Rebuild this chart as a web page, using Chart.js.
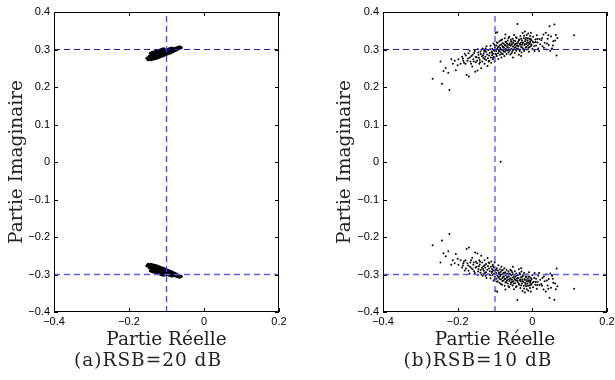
<!DOCTYPE html>
<html>
<head>
<meta charset="utf-8">
<title>Constellation - RSB</title>
<script src="https://cdn.jsdelivr.net/npm/chart.js@4.4.1/dist/chart.umd.min.js"></script>
<style>
    html, body { margin: 0; padding: 0; background: #fff; overflow: hidden; }
    #wrap { position: relative; width: 615px; height: 380px; }
    canvas { position: absolute; top: 0; }
    #chartA { left: 0; width: 305px; height: 380px; }
    #chartB { left: 305px; width: 320px; height: 380px; }
</style>
</head>
<body>
<div id="wrap">
    <canvas id="chartA" width="305" height="380"></canvas>
    <canvas id="chartB" width="320" height="380"></canvas>
</div>
<script>
// Axes
const X_MIN = -0.4, X_MAX = 0.2;
const Y_MIN = -0.4, Y_MAX = 0.4;
const X_TICKS = [-0.4, -0.2, 0, 0.2];
const X_TICK_LABELS = ['\u22120.4', '\u22120.2', '0', '0.2'];
const Y_TICKS = [-0.4, -0.3, -0.2, -0.1, 0, 0.1, 0.2, 0.3, 0.4];
const Y_TICK_LABELS = ['\u22120.4', '\u22120.3', '\u22120.2', '\u22120.1', '0', '0.1', '0.2', '0.3', '0.4'];

// Reference (ideal symbol) lines
const REF_REAL = -0.1;
const REF_IMAG = [0.3, -0.3];

// (a) RSB = 20 dB : two tight clusters
const UPPER_A = [
    [-0.152,0.277],[-0.149,0.273],[-0.146,0.275],[-0.146,0.282],
    [-0.142,0.273],[-0.142,0.279],[-0.141,0.285],[-0.143,0.290],
    [-0.138,0.274],[-0.138,0.280],[-0.137,0.286],[-0.139,0.292],
    [-0.134,0.275],[-0.134,0.281],[-0.133,0.287],[-0.135,0.293],
    [-0.130,0.276],[-0.130,0.282],[-0.129,0.288],[-0.131,0.294],
    [-0.126,0.277],[-0.126,0.283],[-0.125,0.289],[-0.127,0.295],
    [-0.122,0.279],[-0.122,0.285],[-0.121,0.291],[-0.123,0.297],
    [-0.118,0.280],[-0.118,0.286],[-0.117,0.292],[-0.119,0.298],
    [-0.114,0.282],[-0.114,0.288],[-0.113,0.294],[-0.115,0.300],
    [-0.110,0.283],[-0.110,0.289],[-0.109,0.295],[-0.111,0.301],
    [-0.106,0.285],[-0.106,0.291],[-0.105,0.297],[-0.107,0.302],
    [-0.102,0.287],[-0.102,0.293],[-0.101,0.299],
    [-0.098,0.288],[-0.098,0.294],[-0.097,0.300],
    [-0.094,0.290],[-0.094,0.296],[-0.093,0.302],
    [-0.090,0.291],[-0.090,0.297],[-0.089,0.303],
    [-0.086,0.293],[-0.086,0.299],[-0.085,0.304],
    [-0.082,0.295],[-0.082,0.301],[-0.078,0.297],[-0.078,0.303],
    [-0.074,0.299],[-0.074,0.304],[-0.070,0.301],[-0.070,0.306],
    [-0.066,0.303],[-0.065,0.307],[-0.061,0.305]
];
const LOWER_A = [
    [-0.152,-0.277],[-0.149,-0.273],[-0.146,-0.275],[-0.146,-0.282],
    [-0.142,-0.273],[-0.142,-0.279],[-0.141,-0.285],[-0.143,-0.290],
    [-0.138,-0.274],[-0.138,-0.280],[-0.137,-0.286],[-0.139,-0.292],
    [-0.134,-0.275],[-0.134,-0.281],[-0.133,-0.287],[-0.135,-0.293],
    [-0.130,-0.276],[-0.130,-0.282],[-0.129,-0.288],[-0.131,-0.294],
    [-0.126,-0.277],[-0.126,-0.283],[-0.125,-0.289],[-0.127,-0.295],
    [-0.122,-0.279],[-0.122,-0.285],[-0.121,-0.291],[-0.123,-0.297],
    [-0.118,-0.280],[-0.118,-0.286],[-0.117,-0.292],[-0.119,-0.298],
    [-0.114,-0.282],[-0.114,-0.288],[-0.113,-0.294],[-0.115,-0.300],
    [-0.110,-0.283],[-0.110,-0.289],[-0.109,-0.295],[-0.111,-0.301],
    [-0.106,-0.285],[-0.106,-0.291],[-0.105,-0.297],[-0.107,-0.302],
    [-0.102,-0.287],[-0.102,-0.293],[-0.101,-0.299],
    [-0.098,-0.288],[-0.098,-0.294],[-0.097,-0.300],
    [-0.094,-0.290],[-0.094,-0.296],[-0.093,-0.302],
    [-0.090,-0.291],[-0.090,-0.297],[-0.089,-0.303],
    [-0.086,-0.293],[-0.086,-0.299],[-0.085,-0.304],
    [-0.082,-0.295],[-0.082,-0.301],[-0.078,-0.297],[-0.078,-0.303],
    [-0.074,-0.299],[-0.074,-0.304],[-0.070,-0.301],[-0.070,-0.306],
    [-0.066,-0.303],[-0.065,-0.307],[-0.061,-0.305]
];

// (b) RSB = 10 dB : spread clusters
const UPPER_B = [
    [-0.267,0.222],[-0.242,0.209],[-0.222,0.192],[-0.246,0.268],[-0.232,0.251],[-0.217,0.274],[-0.213,0.262],[-0.225,0.238],[-0.205,0.245],[-0.238,0.243],[-0.208,0.27],[-0.2,0.258],
    [-0.198,0.274],[-0.192,0.262],[-0.188,0.281],[-0.185,0.27],[-0.181,0.289],[-0.179,0.262],[-0.176,0.232],[-0.172,0.276],[-0.17,0.228],[-0.168,0.297],[-0.166,0.268],[-0.163,0.283],[-0.161,0.255],[-0.158,0.274],[-0.156,0.291],[-0.153,0.241],[-0.151,0.266],[-0.149,0.279],[-0.147,0.244],[-0.146,0.301],[-0.144,0.286],[-0.142,0.262],[-0.141,0.273],[-0.139,0.295],[-0.137,0.25],[-0.135,0.282],
    [-0.134,0.268],[-0.133,0.303],[-0.131,0.278],[-0.13,0.29],[-0.128,0.262],[-0.127,0.296],[-0.126,0.281],[-0.124,0.272],[-0.123,0.309],[-0.121,0.287],[-0.12,0.256],[-0.119,0.277],[-0.118,0.299],[-0.116,0.284],[-0.115,0.27],[-0.114,0.291],[-0.112,0.31],[-0.111,0.279],[-0.11,0.265],[-0.109,0.295],[-0.108,0.285],[-0.107,0.302],[-0.106,0.274],[-0.105,0.289],[-0.104,0.316],[-0.103,0.281],[-0.102,0.297],[-0.101,0.268],[-0.1,0.306],[-0.099,0.289],[-0.098,0.344],[-0.094,0.346],
    [-0.097,0.296],[-0.096,0.311],[-0.095,0.283],[-0.094,0.302],[-0.093,0.318],[-0.092,0.29],[-0.091,0.275],[-0.09,0.307],[-0.089,0.297],[-0.088,0.322],[-0.087,0.286],[-0.086,0.304],[-0.085,0.293],[-0.084,0.313],[-0.083,0.279],[-0.082,0.3],[-0.081,0.327],[-0.08,0.309],[-0.079,0.288],[-0.078,0.297],[-0.077,0.316],[-0.076,0.305],[-0.075,0.283],[-0.074,0.33],[-0.073,0.294],[-0.072,0.311],[-0.071,0.302],[-0.07,0.32],[-0.069,0.288],[-0.068,0.308],[-0.067,0.298],[-0.066,0.324],[-0.065,0.313],[-0.064,0.292],[-0.063,0.305],[-0.062,0.334],[-0.061,0.317],[-0.06,0.299],
    [-0.059,0.287],[-0.058,0.31],[-0.057,0.322],[-0.056,0.302],[-0.055,0.314],[-0.054,0.294],[-0.053,0.329],[-0.052,0.308],[-0.051,0.318],[-0.05,0.3],[-0.049,0.339],[-0.048,0.312],[-0.047,0.291],[-0.046,0.323],[-0.045,0.306],[-0.044,0.316],[-0.043,0.297],[-0.042,0.331],[-0.041,0.311],[-0.04,0.368],[-0.039,0.302],[-0.038,0.321],[-0.037,0.309],[-0.036,0.286],[-0.035,0.327],[-0.034,0.315],[-0.033,0.3],[-0.032,0.336],[-0.031,0.318],[-0.03,0.307],[-0.029,0.292],[-0.028,0.324],[-0.027,0.313],[-0.026,0.344],[-0.025,0.303],[-0.024,0.319],[-0.023,0.33],[-0.022,0.296],[-0.021,0.312],
    [-0.02,0.348],[-0.019,0.322],[-0.018,0.305],[-0.017,0.331],[-0.016,0.315],[-0.015,0.339],[-0.014,0.3],[-0.013,0.324],[-0.012,0.311],[-0.011,0.343],[-0.01,0.318],[-0.009,0.294],[-0.008,0.329],[-0.007,0.307],[-0.006,0.336],[-0.005,0.317],[-0.004,0.345],[-0.003,0.31],[-0.002,0.325],[0,0.302],[0.002,0.334],[0.004,0.319],[0.006,0.296],[0.008,0.327],[0.01,0.311],[0.012,0.338],[0.014,0.319],[0.016,0.303],[0.019,0.328],[0.021,0.314],
    [0.024,0.325],[0.027,0.309],[0.03,0.34],[0.033,0.318],[0.037,0.3],[0.041,0.329],[0.044,0.312],[0.046,0.362],[0.048,0.297],[0.05,0.335],[0.053,0.303],[0.056,0.322],[0.059,0.367],[0.063,0.339],[0.065,0.284],[0.067,0.331],[0.112,0.338],[0.036,0.345],[0.052,0.302],
    [-0.108,0.292],[-0.104,0.299],[-0.101,0.312],[-0.097,0.287],[-0.095,0.319],[-0.092,0.306],[-0.09,0.296],[-0.088,0.311],[-0.086,0.3],[-0.084,0.325],[-0.082,0.289],[-0.08,0.317],[-0.078,0.306],[-0.076,0.295],[-0.074,0.312],[-0.072,0.321],[-0.07,0.298],[-0.068,0.316],[-0.066,0.306],[-0.064,0.331],[-0.062,0.297],[-0.06,0.312],[-0.058,0.326],[-0.056,0.29],[-0.054,0.319],[-0.052,0.299],[-0.05,0.324],[-0.048,0.305],[-0.046,0.314],[-0.044,0.333],[-0.042,0.302],[-0.04,0.317],[-0.038,0.309],[-0.036,0.325],[-0.034,0.296],[-0.032,0.313],[-0.03,0.329],[-0.028,0.306],[-0.026,0.318],[-0.024,0.3],[-0.022,0.337],[-0.02,0.314],[-0.018,0.326],[-0.016,0.307],[-0.014,0.318],[-0.012,0.33],[-0.01,0.305],[-0.008,0.315],[-0.006,0.322],[-0.004,0.328],[-0.002,0.313],[0.001,0.321],[0.005,0.309],[0.009,0.32],[0.013,0.328],[-0.128,0.275],[-0.124,0.294],[-0.117,0.268],[-0.113,0.301],[-0.105,0.278],
    [-0.186,0.276],[-0.183,0.265],[-0.178,0.284],[-0.174,0.27],[-0.171,0.29],[-0.167,0.279],[-0.164,0.262],[-0.16,0.286],[-0.157,0.268],[-0.154,0.296],[-0.152,0.281],[-0.148,0.27],[-0.145,0.292],[-0.143,0.278],[-0.14,0.266],[-0.138,0.288],[-0.136,0.3],[-0.132,0.285],[-0.129,0.297],[-0.125,0.303],[0.026,0.33],[0.031,0.305],[0.039,0.316],[0.043,0.338],[0.055,0.311],[0.061,0.324],[-0.052,0.279],[-0.03,0.283],[0.018,0.296],[-0.072,0.34]
];
const LOWER_B = [
    [-0.267,-0.222],[-0.242,-0.209],[-0.222,-0.192],[-0.246,-0.268],[-0.232,-0.251],[-0.217,-0.274],[-0.213,-0.262],[-0.225,-0.238],[-0.205,-0.245],[-0.238,-0.243],[-0.208,-0.27],[-0.2,-0.258],
    [-0.198,-0.274],[-0.192,-0.262],[-0.188,-0.281],[-0.185,-0.27],[-0.181,-0.289],[-0.179,-0.262],[-0.176,-0.232],[-0.172,-0.276],[-0.17,-0.228],[-0.168,-0.297],[-0.166,-0.268],[-0.163,-0.283],[-0.161,-0.255],[-0.158,-0.274],[-0.156,-0.291],[-0.153,-0.241],[-0.151,-0.266],[-0.149,-0.279],[-0.147,-0.244],[-0.146,-0.301],[-0.144,-0.286],[-0.142,-0.262],[-0.141,-0.273],[-0.139,-0.295],[-0.137,-0.25],[-0.135,-0.282],
    [-0.134,-0.268],[-0.133,-0.303],[-0.131,-0.278],[-0.13,-0.29],[-0.128,-0.262],[-0.127,-0.296],[-0.126,-0.281],[-0.124,-0.272],[-0.123,-0.309],[-0.121,-0.287],[-0.12,-0.256],[-0.119,-0.277],[-0.118,-0.299],[-0.116,-0.284],[-0.115,-0.27],[-0.114,-0.291],[-0.112,-0.31],[-0.111,-0.279],[-0.11,-0.265],[-0.109,-0.295],[-0.108,-0.285],[-0.107,-0.302],[-0.106,-0.274],[-0.105,-0.289],[-0.104,-0.316],[-0.103,-0.281],[-0.102,-0.297],[-0.101,-0.268],[-0.1,-0.306],[-0.099,-0.289],[-0.098,-0.344],[-0.094,-0.346],
    [-0.097,-0.296],[-0.096,-0.311],[-0.095,-0.283],[-0.094,-0.302],[-0.093,-0.318],[-0.092,-0.29],[-0.091,-0.275],[-0.09,-0.307],[-0.089,-0.297],[-0.088,-0.322],[-0.087,-0.286],[-0.086,-0.304],[-0.085,-0.293],[-0.084,-0.313],[-0.083,-0.279],[-0.082,-0.3],[-0.081,-0.327],[-0.08,-0.309],[-0.079,-0.288],[-0.078,-0.297],[-0.077,-0.316],[-0.076,-0.305],[-0.075,-0.283],[-0.074,-0.33],[-0.073,-0.294],[-0.072,-0.311],[-0.071,-0.302],[-0.07,-0.32],[-0.069,-0.288],[-0.068,-0.308],[-0.067,-0.298],[-0.066,-0.324],[-0.065,-0.313],[-0.064,-0.292],[-0.063,-0.305],[-0.062,-0.334],[-0.061,-0.317],[-0.06,-0.299],
    [-0.059,-0.287],[-0.058,-0.31],[-0.057,-0.322],[-0.056,-0.302],[-0.055,-0.314],[-0.054,-0.294],[-0.053,-0.329],[-0.052,-0.308],[-0.051,-0.318],[-0.05,-0.3],[-0.049,-0.339],[-0.048,-0.312],[-0.047,-0.291],[-0.046,-0.323],[-0.045,-0.306],[-0.044,-0.316],[-0.043,-0.297],[-0.042,-0.331],[-0.041,-0.311],[-0.04,-0.368],[-0.039,-0.302],[-0.038,-0.321],[-0.037,-0.309],[-0.036,-0.286],[-0.035,-0.327],[-0.034,-0.315],[-0.033,-0.3],[-0.032,-0.336],[-0.031,-0.318],[-0.03,-0.307],[-0.029,-0.292],[-0.028,-0.324],[-0.027,-0.313],[-0.026,-0.344],[-0.025,-0.303],[-0.024,-0.319],[-0.023,-0.33],[-0.022,-0.296],[-0.021,-0.312],
    [-0.02,-0.348],[-0.019,-0.322],[-0.018,-0.305],[-0.017,-0.331],[-0.016,-0.315],[-0.015,-0.339],[-0.014,-0.3],[-0.013,-0.324],[-0.012,-0.311],[-0.011,-0.343],[-0.01,-0.318],[-0.009,-0.294],[-0.008,-0.329],[-0.007,-0.307],[-0.006,-0.336],[-0.005,-0.317],[-0.004,-0.345],[-0.003,-0.31],[-0.002,-0.325],[0,-0.302],[0.002,-0.334],[0.004,-0.319],[0.006,-0.296],[0.008,-0.327],[0.01,-0.311],[0.012,-0.338],[0.014,-0.319],[0.016,-0.303],[0.019,-0.328],[0.021,-0.314],
    [0.024,-0.325],[0.027,-0.309],[0.03,-0.34],[0.033,-0.318],[0.037,-0.3],[0.041,-0.329],[0.044,-0.312],[0.046,-0.362],[0.048,-0.297],[0.05,-0.335],[0.053,-0.303],[0.056,-0.322],[0.059,-0.367],[0.063,-0.339],[0.065,-0.284],[0.067,-0.331],[0.112,-0.338],[0.036,-0.345],[0.052,-0.302],
    [-0.108,-0.292],[-0.104,-0.299],[-0.101,-0.312],[-0.097,-0.287],[-0.095,-0.319],[-0.092,-0.306],[-0.09,-0.296],[-0.088,-0.311],[-0.086,-0.3],[-0.084,-0.325],[-0.082,-0.289],[-0.08,-0.317],[-0.078,-0.306],[-0.076,-0.295],[-0.074,-0.312],[-0.072,-0.321],[-0.07,-0.298],[-0.068,-0.316],[-0.066,-0.306],[-0.064,-0.331],[-0.062,-0.297],[-0.06,-0.312],[-0.058,-0.326],[-0.056,-0.29],[-0.054,-0.319],[-0.052,-0.299],[-0.05,-0.324],[-0.048,-0.305],[-0.046,-0.314],[-0.044,-0.333],[-0.042,-0.302],[-0.04,-0.317],[-0.038,-0.309],[-0.036,-0.325],[-0.034,-0.296],[-0.032,-0.313],[-0.03,-0.329],[-0.028,-0.306],[-0.026,-0.318],[-0.024,-0.3],[-0.022,-0.337],[-0.02,-0.314],[-0.018,-0.326],[-0.016,-0.307],[-0.014,-0.318],[-0.012,-0.33],[-0.01,-0.305],[-0.008,-0.315],[-0.006,-0.322],[-0.004,-0.328],[-0.002,-0.313],[0.001,-0.321],[0.005,-0.309],[0.009,-0.32],[0.013,-0.328],[-0.128,-0.275],[-0.124,-0.294],[-0.117,-0.268],[-0.113,-0.301],[-0.105,-0.278],
    [-0.186,-0.276],[-0.183,-0.265],[-0.178,-0.284],[-0.174,-0.27],[-0.171,-0.29],[-0.167,-0.279],[-0.164,-0.262],[-0.16,-0.286],[-0.157,-0.268],[-0.154,-0.296],[-0.152,-0.281],[-0.148,-0.27],[-0.145,-0.292],[-0.143,-0.278],[-0.14,-0.266],[-0.138,-0.288],[-0.136,-0.3],[-0.132,-0.285],[-0.129,-0.297],[-0.125,-0.303],[0.026,-0.33],[0.031,-0.305],[0.039,-0.316],[0.043,-0.338],[0.055,-0.311],[0.061,-0.324],[-0.052,-0.279],[-0.03,-0.283],[0.018,-0.296],[-0.072,-0.34]
];
const STRAY_B = [[-0.085, 0.001]];

const SERIF = '"DejaVu Serif", "Liberation Serif", serif';
Chart.defaults.font.family = '"Liberation Sans", Arial, sans-serif';
Chart.defaults.color = '#000';

/**
 * MATLAB-like frame: box, inward ticks on all four sides, subfigure caption
 */
const matlabFrame = {
    id: 'matlabFrame',
    afterDatasetsDraw(chart, args, opts) {
        const { ctx, chartArea: a, scales: { x, y } } = chart;
        const len = 4;
        ctx.save();
        ctx.strokeStyle = '#000';
        ctx.lineWidth = 1;
        ctx.beginPath();
        ctx.rect(a.left + 0.5, a.top + 0.5, a.right - a.left - 1, a.bottom - a.top - 1);
        x.ticks.forEach(t => {
            const px = Math.round(x.getPixelForValue(t.value)) + 0.5;
            ctx.moveTo(px, a.bottom); ctx.lineTo(px, a.bottom - len);
            ctx.moveTo(px, a.top); ctx.lineTo(px, a.top + len);
        });
        y.ticks.forEach(t => {
            const py = Math.round(y.getPixelForValue(t.value)) + 0.5;
            ctx.moveTo(a.left, py); ctx.lineTo(a.left + len, py);
            ctx.moveTo(a.right, py); ctx.lineTo(a.right - len, py);
        });
        ctx.stroke();

        ctx.font = '18.5px ' + SERIF;
        ctx.fillStyle = '#222';
        ctx.textAlign = 'center';
        ctx.textBaseline = 'middle';
        if ('letterSpacing' in ctx) ctx.letterSpacing = '1px';
        ctx.fillText(opts.caption, opts.captionX, opts.captionY);
        ctx.restore();
    }
};

function refLineDatasets() {
    const base = { showLine: true, pointRadius: 0, borderDash: [6, 4], fill: false };
    return [
        { ...base, data: [[X_MIN, REF_IMAG[0]], [X_MAX, REF_IMAG[0]]], borderColor: '#1c1cb0', borderWidth: 1 },
        { ...base, data: [[X_MIN, REF_IMAG[1]], [X_MAX, REF_IMAG[1]]], borderColor: '#5e5ef7', borderWidth: 1.6 },
        { ...base, data: [[REF_REAL, Y_MIN], [REF_REAL, Y_MAX]], borderColor: '#4040f0', borderWidth: 1.2 }
    ];
}

function pointDataset(data, radius) {
    return {
        data: data,
        pointRadius: radius,
        pointHoverRadius: radius,
        pointBorderWidth: 0,
        pointBackgroundColor: '#000',
        showLine: false
    };
}

/**
 * Create one constellation panel
 */
function createPanel(canvasId, clusters, cfg) {
    return new Chart(document.getElementById(canvasId), {
        type: 'scatter',
        data: { datasets: [...refLineDatasets(), ...clusters] },
        options: {
            responsive: false,
            animation: false,
            events: [],
            layout: { padding: { left: 0, right: cfg.padRight, top: 12, bottom: 0 } },
            plugins: {
                legend: { display: false },
                tooltip: { enabled: false },
                matlabFrame: { caption: cfg.caption, captionX: cfg.captionX, captionY: 361 }
            },
            scales: {
                x: {
                    type: 'linear',
                    min: X_MIN,
                    max: X_MAX,
                    afterFit: s => { s.height = 68; },
                    afterBuildTicks: s => { s.ticks = X_TICKS.map(v => ({ value: v })); },
                    ticks: {
                        autoSkip: false,
                        maxRotation: 0,
                        padding: 3,
                        font: { size: 11 },
                        callback: (v, i) => X_TICK_LABELS[i]
                    },
                    grid: { display: false, drawTicks: false },
                    border: { display: false },
                    title: {
                        display: true,
                        text: 'Partie Réelle',
                        color: '#222',
                        font: { family: SERIF, size: 18.5 },
                        padding: { top: 0, bottom: 28.9 }
                    }
                },
                y: {
                    type: 'linear',
                    min: Y_MIN,
                    max: Y_MAX,
                    afterFit: s => { s.width = cfg.yWidth; },
                    afterBuildTicks: s => { s.ticks = Y_TICKS.map(v => ({ value: v })); },
                    ticks: {
                        autoSkip: false,
                        padding: 4,
                        font: { size: 11 },
                        callback: (v, i) => Y_TICK_LABELS[i]
                    },
                    grid: { display: false, drawTicks: false },
                    border: { display: false },
                    title: {
                        display: true,
                        text: 'Partie Imaginaire',
                        color: '#222',
                        font: { family: SERIF, size: 18.5 },
                        padding: { top: cfg.yTitlePad, bottom: 0 }
                    }
                }
            }
        },
        plugins: [matlabFrame]
    });
}

createPanel('chartA', [pointDataset(UPPER_A, 1.6), pointDataset(LOWER_A, 1.6)], {
    padRight: 26, yWidth: 54, yTitlePad: 5.9, caption: '(a)RSB=20 dB', captionX: 148
});
createPanel('chartB', [pointDataset(UPPER_B, 1), pointDataset(LOWER_B, 1), pointDataset(STRAY_B, 1)], {
    padRight: 18, yWidth: 78, yTitlePad: 28.9, caption: '(b)RSB=10 dB', captionX: 173
});
</script>
</body>
</html>
